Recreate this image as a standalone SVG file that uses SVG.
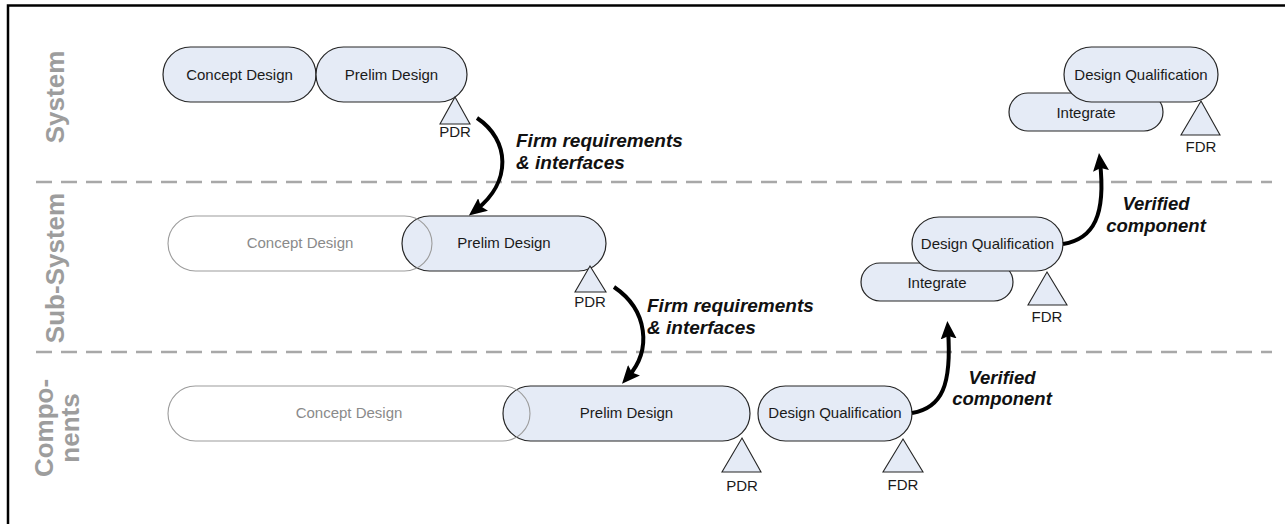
<svg xmlns="http://www.w3.org/2000/svg" width="1285" height="524" viewBox="0 0 1285 524">
  <style>
    .pill { fill: #e5ebf6; stroke: #262626; stroke-width: 1.2; }
    .ghost { fill: none; stroke: #9c9c9c; stroke-width: 1.1; }
    .ms { fill: #e5ebf6; stroke: #262626; stroke-width: 1.1; }
    .t { font-family: "Liberation Sans", Arial, sans-serif; font-size: 15px; fill: #1a1a1a; text-anchor: middle; }
    .tg { font-family: "Liberation Sans", Arial, sans-serif; font-size: 15px; fill: #8a8a8a; text-anchor: middle; }
    .lane { font-family: "Liberation Sans", Arial, sans-serif; font-size: 26px; font-weight: bold; fill: #9d9d9d; text-anchor: middle; }
    .note { font-family: "Liberation Sans", Arial, sans-serif; font-size: 18.5px; font-weight: bold; font-style: italic; fill: #111; }
    .big { font-size: 19px; }
    .flow { fill: none; stroke: #000; stroke-width: 4; marker-end: url(#head); }
    .sep { stroke: #a8a8a8; stroke-width: 2.5; stroke-dasharray: 16 9; }
  </style>
  <defs>
    <marker id="head" markerUnits="userSpaceOnUse" viewBox="0 0 18 16" refX="9" refY="8" markerWidth="18" markerHeight="16" orient="auto">
      <path d="M0,0 L18,8 L0,16 L3,8 z" fill="#000"/>
    </marker>
  </defs>

  <rect width="1285" height="524" fill="#fff"/>

  <!-- frame -->
  <path d="M8,524 L8,5.5 L1285,5.5" fill="none" stroke="#000" stroke-width="2.5"/>

  <!-- lane separators -->
  <line class="sep" x1="36" y1="182" x2="1272" y2="182"/>
  <line class="sep" x1="36" y1="352" x2="1272" y2="352"/>

  <!-- lane labels -->
  <text class="lane" transform="translate(64,97) rotate(-90)">System</text>
  <text class="lane" transform="translate(64,268) rotate(-90)">Sub-System</text>
  <text class="lane" transform="translate(53,428) rotate(-90)">Compo-</text>
  <text class="lane" transform="translate(79,428) rotate(-90)">nents</text>

  <!-- system lane -->
  <g id="sys-concept">
    <rect class="pill" x="163" y="47" width="153" height="55" rx="27.5"/>
    <text class="t" x="239.5" y="79.5">Concept Design</text>
  </g>
  <g id="sys-prelim">
    <rect class="pill" x="316" y="47" width="151" height="55" rx="27.5"/>
    <text class="t" x="391.5" y="79.5">Prelim Design</text>
  </g>
  <g id="sys-pdr">
    <path class="ms" d="M455,97 L470,124 L440,124 z"/>
    <text class="t" x="455" y="137">PDR</text>
  </g>
  <g id="sys-integrate">
    <rect class="pill" x="1009" y="93" width="154" height="38" rx="19"/>
    <text class="t" x="1086" y="117.5">Integrate</text>
  </g>
  <g id="sys-qual">
    <rect class="pill" x="1064" y="47" width="154" height="55" rx="27.5"/>
    <text class="t" x="1141" y="79.5">Design Qualification</text>
  </g>
  <g id="sys-fdr">
    <path class="ms" d="M1201,101 L1220,135 L1181,135 z"/>
    <text class="t" x="1201" y="152">FDR</text>
  </g>

  <!-- sub-system lane -->
  <g id="sub-prelim">
    <rect class="pill" x="402" y="216" width="204" height="55" rx="27.5"/>
    <text class="t" x="504" y="248">Prelim Design</text>
  </g>
  <g id="sub-concept">
    <rect class="ghost" x="168" y="216" width="264" height="55" rx="27.5"/>
    <text class="tg" x="300" y="248">Concept Design</text>
  </g>
  <g id="sub-pdr">
    <path class="ms" d="M590,266 L606,292 L575,292 z"/>
    <text class="t" x="590" y="307">PDR</text>
  </g>
  <g id="sub-integrate">
    <rect class="pill" x="861" y="263" width="152" height="38" rx="19"/>
    <text class="t" x="937" y="287.5">Integrate</text>
  </g>
  <g id="sub-qual">
    <rect class="pill" x="912" y="217" width="151" height="54" rx="27"/>
    <text class="t" x="987.5" y="248.5">Design Qualification</text>
  </g>
  <g id="sub-fdr">
    <path class="ms" d="M1047,272 L1067,305 L1028,305 z"/>
    <text class="t" x="1047" y="322">FDR</text>
  </g>

  <!-- components lane -->
  <g id="comp-prelim">
    <rect class="pill" x="503" y="386" width="247" height="55" rx="27.5"/>
    <text class="t" x="626.5" y="418">Prelim Design</text>
  </g>
  <g id="comp-concept">
    <rect class="ghost" x="168" y="386" width="362" height="55" rx="27.5"/>
    <text class="tg" x="349" y="418">Concept Design</text>
  </g>
  <g id="comp-pdr">
    <path class="ms" d="M742,438 L761,472 L722,472 z"/>
    <text class="t" x="742" y="491">PDR</text>
  </g>
  <g id="comp-qual">
    <rect class="pill" x="758" y="386" width="154" height="55" rx="27.5"/>
    <text class="t" x="835" y="418">Design Qualification</text>
  </g>
  <g id="comp-fdr">
    <path class="ms" d="M903,439 L923,472 L883,472 z"/>
    <text class="t" x="903" y="490">FDR</text>
  </g>

  <!-- hand-offs between lanes -->
  <g id="connectors">
    <path class="flow" d="M477,118 C510,140 512,182 476,210"/>
    <path class="flow" d="M614,287 C648,310 652,350 628,377"/>
    <path class="flow" d="M912,413 C942,408 952,385 948,330"/>
    <path class="flow" d="M1063,244 C1094,239 1106,215 1100,162"/>
    <text class="note big" x="516" y="147">Firm requirements</text>
    <text class="note big" x="516" y="169">&amp; interfaces</text>
    <text class="note big" x="647" y="312">Firm requirements</text>
    <text class="note big" x="647" y="334">&amp; interfaces</text>
    <text class="note" x="1002" y="384" text-anchor="middle">Verified</text>
    <text class="note" x="1002" y="405" text-anchor="middle">component</text>
    <text class="note" x="1156" y="210" text-anchor="middle">Verified</text>
    <text class="note" x="1156" y="232" text-anchor="middle">component</text>
  </g>
</svg>
